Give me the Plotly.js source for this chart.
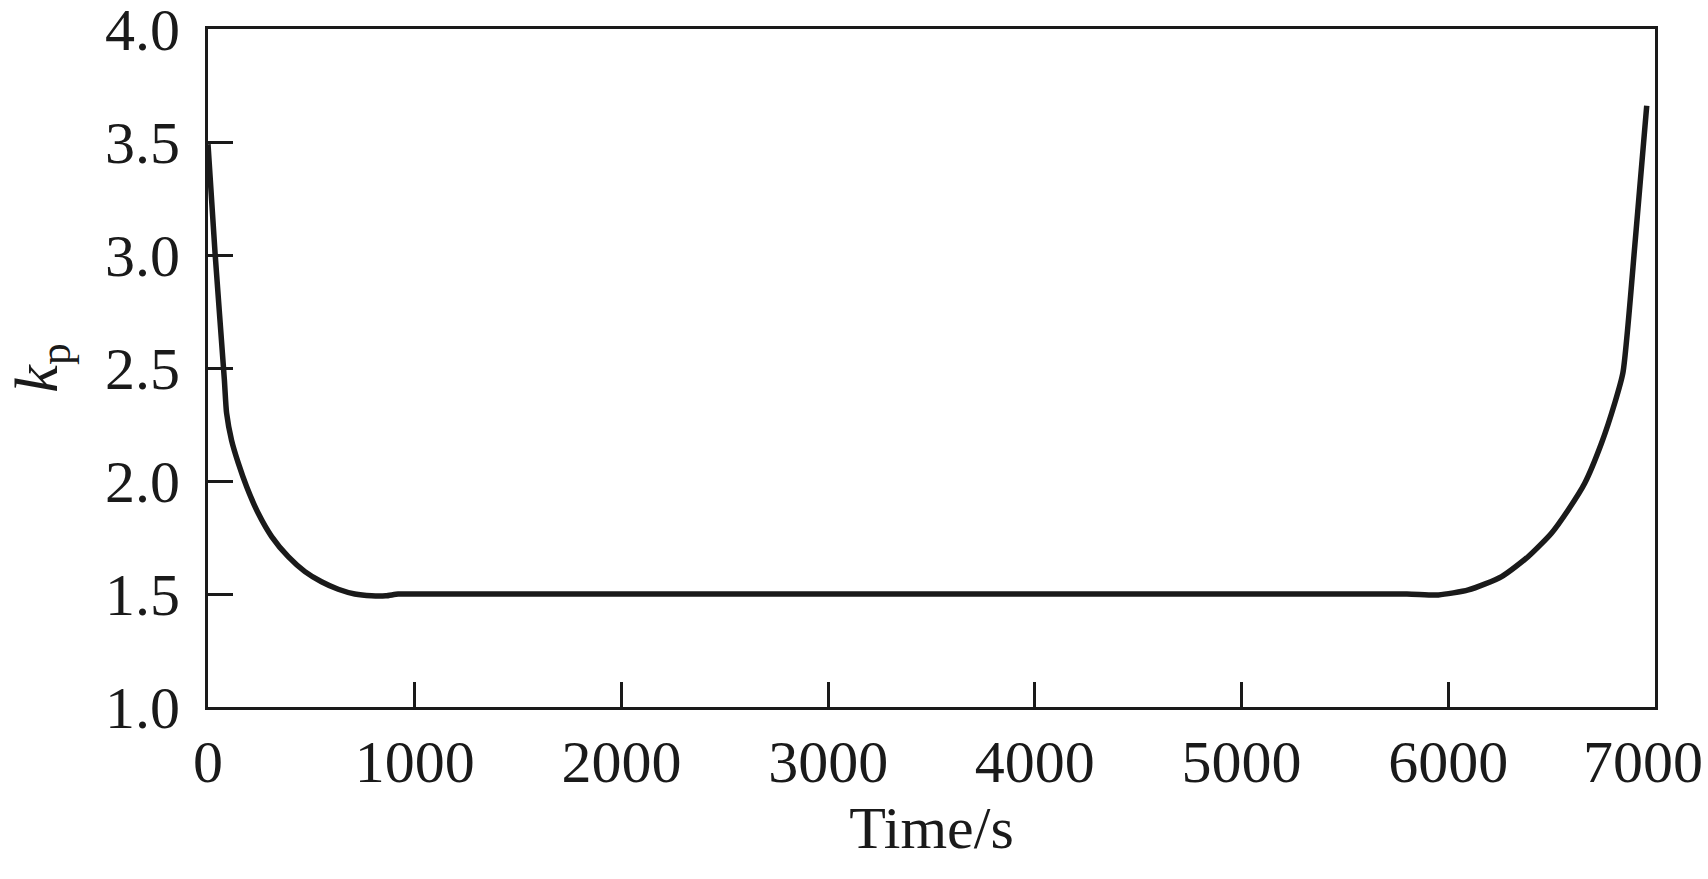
<!DOCTYPE html>
<html>
<head>
<meta charset="utf-8">
<script src="https://cdn.plot.ly/plotly-3.0.1.min.js"></script>
<style>html,body{margin:0;padding:0;background:#fff;}#chart{width:1708px;height:879px;}</style>
</head>
<body>
<div id="chart"></div>
<script>
// Data
var timeS = [0, 34, 79, 90, 114, 147, 187, 243, 308, 388, 469, 549, 630, 710, 791, 860, 920, 1000, 2000, 3000, 4000, 5000, 5800, 5952, 6097, 6258, 6386, 6499, 6580, 6660, 6741, 6805, 6845, 6905, 6960];
var kp    = [3.49, 3.01, 2.45, 2.30, 2.18, 2.078, 1.975, 1.857, 1.754, 1.665, 1.599, 1.554, 1.521, 1.50, 1.492, 1.492, 1.50, 1.50, 1.50, 1.50, 1.50, 1.50, 1.50, 1.496, 1.518, 1.577, 1.665, 1.769, 1.872, 1.99, 2.167, 2.344, 2.48, 3.07, 3.66];
var xTicks = [0, 1000, 2000, 3000, 4000, 5000, 6000, 7000];
var yTicks = [1.0, 1.5, 2.0, 2.5, 3.0, 3.5, 4.0];
var yTickText = ["1.0", "1.5", "2.0", "2.5", "3.0", "3.5", "4.0"];
var xTitle = "Time/s";
var yTitle = "<i>k</i><sub>p</sub>";

var ink = "#1a1a1a";
var fontFam = "'Liberation Serif', 'Times New Roman', serif";

var lastX = xTicks[xTicks.length - 1];
var mainXTicks = xTicks.slice(0, xTicks.length - 1);

var trace = {
  x: timeS, y: kp, type: "scatter", mode: "lines",
  line: {color: ink, width: 5.5, shape: "spline", smoothing: 0.6}, hoverinfo: "skip"
};
// carrier trace for the overlaid axis that holds the last x tick label
var carrier = {x: [lastX], y: [yTicks[0]], xaxis: "x2", type: "scatter", mode: "none", hoverinfo: "skip"};

var tickFont = {family: fontFam, size: 60, color: ink};

var layout = {
  width: 1708, height: 879,
  margin: {l: 208, r: 53, t: 29, b: 172, pad: 0},
  paper_bgcolor: "#fff", plot_bgcolor: "#fff",
  showlegend: false,
  font: {family: fontFam, color: ink, size: 60},
  xaxis: {
    range: [0, lastX], tickvals: xTicks, ticktext: xTicks.map(function (v, i) { return i < mainXTicks.length ? String(v) : ""; }),
    ticks: "inside", ticklen: 25, tickwidth: 3, tickcolor: ink,
    showline: true, linecolor: ink, linewidth: 3, mirror: true,
    showgrid: false, zeroline: false,
    tickfont: tickFont,
    ticklabelstandoff: 0, ticklabeloverflow: "allow",
    title: {text: xTitle, font: {family: fontFam, size: 60, color: ink}, standoff: 10}
  },
  xaxis2: {
    overlaying: "x", anchor: "y", side: "bottom",
    range: [0, lastX], tickvals: [lastX], ticktext: [String(lastX)],
    ticks: "inside", ticklen: 25, tickwidth: 3, tickcolor: "rgba(0,0,0,0)",
    showline: false, showgrid: false, zeroline: false,
    tickfont: tickFont, ticklabelstandoff: 14, ticklabelshift: -12, ticklabeloverflow: "allow"
  },
  yaxis: {
    range: [1, 4], tickvals: yTicks, ticktext: yTickText,
    ticks: "inside", ticklen: 25, tickwidth: 3, tickcolor: ink,
    showline: true, linecolor: ink, linewidth: 3, mirror: true,
    showgrid: false, zeroline: false,
    tickfont: tickFont,
    ticklabelstandoff: 13, ticklabeloverflow: "allow",
    title: {text: yTitle, font: {family: fontFam, size: 62, color: ink}, standoff: 28}
  }
};

Plotly.newPlot("chart", [trace, carrier], layout, {displayModeBar: false, staticPlot: true});
</script>
</body>
</html>
